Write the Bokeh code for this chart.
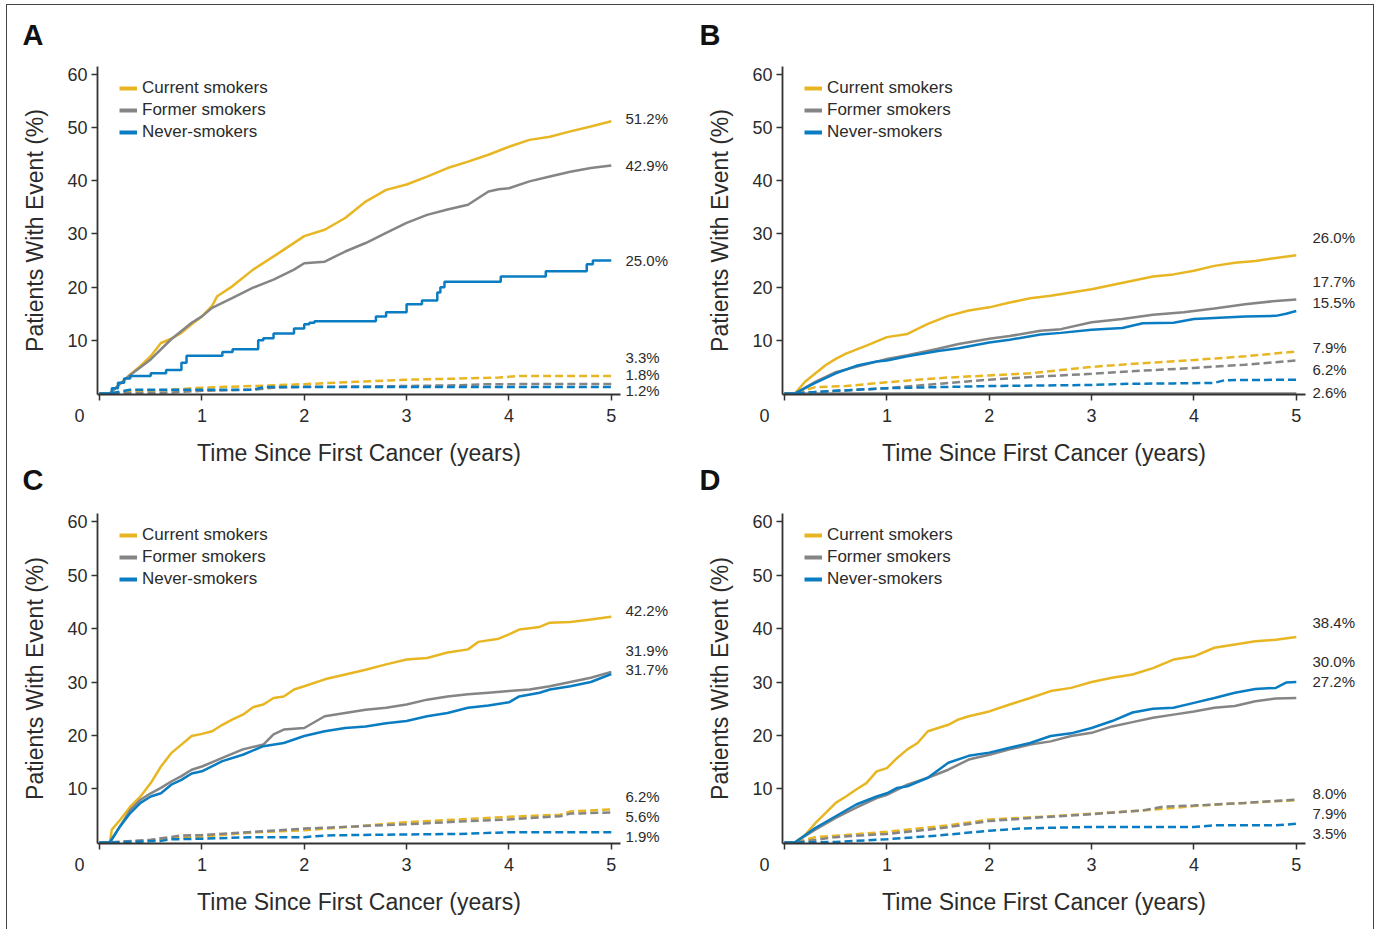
from bokeh.plotting import figure
from bokeh.models import Range1d, FixedTicker, Legend, LegendItem, LinearAxis, Title
from bokeh.layouts import column, row
from bokeh.embed import file_html
from bokeh.resources import INLINE

# ---------------- data ----------------
groups = ["Current smokers", "Former smokers", "Never-smokers"]
x_ticks = [0, 1, 2, 3, 4, 5]
y_ticks = [10, 20, 30, 40, 50, 60]

# Panel A
A_cur_x = [0,0.1,0.2,0.3,0.4,0.5,0.6,0.7,0.8,0.9,1.0,1.1,1.15,1.3,1.5,1.75,2.0,2.2,2.4,2.6,2.8,3.0,3.2,3.4,3.6,3.8,4.0,4.2,4.4,4.6,4.8,5.0]
A_cur_y = [0,0,1.8,3.6,5.2,7.0,9.5,10.3,11.4,13.0,14.5,16.5,18.3,20.2,23.3,26.4,29.6,30.8,33.0,36.1,38.3,39.3,40.8,42.4,43.6,44.9,46.4,47.7,48.3,49.3,50.2,51.2]
A_for_x = [0,0.1,0.2,0.3,0.5,0.7,0.9,1.0,1.1,1.3,1.5,1.7,1.9,2.0,2.2,2.4,2.6,2.8,3.0,3.2,3.4,3.6,3.8,3.9,4.0,4.2,4.4,4.6,4.8,5.0]
A_for_y = [0,0,1.8,3.5,6.4,10.2,13.3,14.5,16.1,18.0,19.9,21.4,23.3,24.5,24.8,26.7,28.3,30.2,32.1,33.6,34.6,35.5,38.0,38.4,38.6,39.9,40.8,41.7,42.4,42.9]
A_nev_x = [0,0.12,0.18,0.24,0.3,0.5,0.65,0.8,0.85,1.2,1.3,1.55,1.6,1.7,1.9,2.0,2.05,2.1,2.7,2.8,3.0,3.15,3.3,3.33,3.37,3.92,4.36,4.76,4.82,5.0]
A_nev_y = [0,1.0,2.0,2.8,3.3,3.8,4.4,5.8,7.1,7.8,8.3,10.0,10.4,11.3,12.2,13.0,13.3,13.6,14.5,15.3,16.8,17.5,19.0,20.0,21.0,22.0,23.0,24.3,25.0,25.0]
A_cur_d_x = [0,0.1,0.3,0.7,1.0,1.5,2.0,2.5,3.0,3.5,3.9,4.1,5.0]
A_cur_d_y = [0,0,0.4,0.7,1.1,1.4,1.75,2.2,2.6,2.8,3.0,3.3,3.3]
A_for_d_x = [0,0.1,0.7,1.0,1.5,1.7,2.0,2.5,3.0,3.5,3.8,5.0]
A_for_d_y = [0,0,0.2,0.5,0.7,1.1,1.25,1.3,1.4,1.55,1.75,1.8]
A_nev_d_x = [0,0.1,0.3,1.5,1.6,5.0]
A_nev_d_y = [0,0,0.7,0.7,1.2,1.2]
A_labels = ["51.2%", "42.9%", "25.0%", "3.3%", "1.8%", "1.2%"]

# Panel B
B_cur_x = [0,0.1,0.2,0.4,0.5,0.6,0.8,1.0,1.2,1.4,1.6,1.8,2.0,2.2,2.4,2.6,2.8,3.0,3.2,3.4,3.6,3.8,4.0,4.2,4.4,4.6,4.8,5.0]
B_cur_y = [0,0,2.2,5.3,6.5,7.5,9.0,10.6,11.2,13.1,14.6,15.6,16.2,17.1,17.9,18.4,19.0,19.6,20.4,21.2,22.0,22.4,23.1,24.0,24.6,24.9,25.5,26.0]
B_for_x = [0,0.1,0.3,0.5,0.7,0.9,1.0,1.2,1.5,1.7,2.0,2.2,2.5,2.7,3.0,3.3,3.6,3.9,4.2,4.5,4.8,5.0]
B_for_y = [0,0,2.2,4.0,5.0,6.0,6.5,7.2,8.4,9.3,10.3,10.8,11.8,12.1,13.4,14.0,14.8,15.3,16.0,16.8,17.4,17.7]
B_nev_x = [0,0.1,0.3,0.5,0.7,0.9,1.0,1.2,1.5,1.7,2.0,2.2,2.5,2.7,3.0,3.3,3.5,3.8,4.0,4.3,4.5,4.8,4.9,5.0]
B_nev_y = [0,0,2.0,3.8,5.2,6.0,6.2,7.0,8.0,8.5,9.6,10.1,11.1,11.4,12.0,12.3,13.2,13.3,14.0,14.3,14.5,14.6,15.0,15.5]
B_cur_d_x = [0,0.1,0.3,0.6,1.0,1.3,1.6,2.0,2.4,2.7,3.0,3.5,4.0,4.5,5.0]
B_cur_d_y = [0,0,1.2,1.4,2.1,2.6,3.0,3.4,3.8,4.4,5.0,5.7,6.3,7.0,7.9]
B_for_d_x = [0,0.1,0.5,1.0,1.5,2.0,2.5,3.0,3.5,4.0,4.5,5.0]
B_for_d_y = [0,0,0.5,1.0,1.8,2.6,3.2,3.7,4.3,4.8,5.4,6.2]
B_nev_d_x = [0,0.1,0.5,1.0,1.5,2.0,2.5,3.0,3.3,3.8,4.2,4.3,5.0]
B_nev_d_y = [0,0,0.5,1.0,1.2,1.4,1.5,1.6,1.8,1.9,2.0,2.5,2.6]
B_base_x = [0, 5.0]
B_base_y = [0, 0]
B_labels = ["26.0%", "17.7%", "15.5%", "7.9%", "6.2%", "2.6%"]

# Panel C
C_cur_x = [0,0.1,0.12,0.2,0.3,0.4,0.5,0.6,0.7,0.8,0.9,1.0,1.1,1.2,1.3,1.4,1.5,1.6,1.7,1.8,1.9,2.0,2.2,2.4,2.6,2.8,3.0,3.2,3.4,3.6,3.7,3.9,4.0,4.1,4.3,4.4,4.6,4.8,5.0]
C_cur_y = [0,0,2.4,4.2,6.7,8.6,11.1,14.2,16.7,18.3,19.9,20.3,20.8,22.0,23.0,23.9,25.3,25.8,27.0,27.3,28.6,29.2,30.5,31.4,32.3,33.3,34.2,34.5,35.5,36.1,37.5,38.1,38.9,39.8,40.3,41.1,41.2,41.7,42.2]
C_for_x = [0,0.1,0.2,0.3,0.4,0.5,0.6,0.7,0.8,0.9,1.0,1.2,1.4,1.6,1.7,1.8,2.0,2.2,2.4,2.6,2.8,3.0,3.2,3.4,3.6,3.8,4.0,4.2,4.4,4.6,4.8,5.0]
C_for_y = [0,0,3.0,6.1,8.0,9.2,10.2,11.4,12.4,13.6,14.2,15.8,17.4,18.3,20.2,21.1,21.4,23.6,24.2,24.8,25.2,25.8,26.7,27.3,27.7,28.0,28.3,28.6,29.2,30.0,30.8,31.9]
C_nev_x = [0,0.1,0.2,0.3,0.4,0.5,0.6,0.7,0.8,0.9,1.0,1.2,1.4,1.6,1.8,2.0,2.2,2.4,2.6,2.8,3.0,3.2,3.4,3.6,3.8,4.0,4.1,4.3,4.4,4.6,4.8,5.0]
C_nev_y = [0,0,3.0,5.5,7.4,8.6,9.2,10.8,11.7,12.9,13.3,15.2,16.4,18.0,18.6,19.9,20.8,21.4,21.7,22.3,22.7,23.6,24.2,25.2,25.6,26.2,27.3,28.0,28.6,29.2,30.0,31.5]
C_cur_d_x = [0,0.1,0.5,0.8,1.0,1.5,2.0,2.5,3.0,3.5,4.0,4.5,4.6,5.0]
C_cur_d_y = [0,0,0.4,0.9,1.1,1.9,2.3,3.0,3.8,4.3,4.8,5.2,5.8,6.2]
C_for_d_x = [0,0.1,0.5,0.8,1.0,1.5,2.0,2.5,3.0,3.5,4.0,4.5,4.6,5.0]
C_for_d_y = [0,0,0.5,1.3,1.4,2.0,2.6,3.0,3.4,3.9,4.3,4.9,5.4,5.6]
C_nev_d_x = [0,0.1,0.6,0.7,1.0,1.5,2.0,2.2,2.5,3.0,3.5,4.0,5.0]
C_nev_d_y = [0,0,0.3,0.6,0.7,1.0,1.0,1.3,1.4,1.5,1.6,1.9,1.9]
C_labels = ["42.2%", "31.9%", "31.7%", "6.2%", "5.6%", "1.9%"]

# Panel D
D_cur_x = [0,0.1,0.2,0.3,0.4,0.5,0.6,0.7,0.8,0.9,1.0,1.1,1.2,1.3,1.4,1.5,1.6,1.7,1.8,2.0,2.2,2.4,2.6,2.8,3.0,3.2,3.4,3.6,3.8,4.0,4.2,4.4,4.6,4.8,5.0]
D_cur_y = [0,0,1.4,3.6,5.5,7.4,8.6,9.9,11.1,13.3,13.9,15.8,17.4,18.6,20.8,21.4,22.0,23.0,23.6,24.5,25.8,27.0,28.3,28.9,30.0,30.8,31.4,32.6,34.2,34.8,36.4,37.0,37.6,37.9,38.4]
D_for_x = [0,0.1,0.3,0.5,0.7,0.9,1.0,1.2,1.4,1.6,1.8,2.0,2.2,2.4,2.6,2.8,3.0,3.2,3.4,3.6,3.8,4.0,4.2,4.4,4.6,4.8,5.0]
D_for_y = [0,0,2.4,4.6,6.5,8.3,8.9,10.8,12.1,13.6,15.5,16.4,17.4,18.3,18.9,19.9,20.5,21.7,22.5,23.3,23.9,24.5,25.2,25.5,26.4,26.9,27.0]
D_nev_x = [0,0.1,0.3,0.5,0.7,0.9,1.0,1.1,1.2,1.4,1.6,1.8,2.0,2.2,2.4,2.6,2.8,3.0,3.2,3.4,3.6,3.8,4.0,4.2,4.4,4.6,4.8,4.9,5.0]
D_nev_y = [0,0,2.7,4.9,7.1,8.6,9.2,10.2,10.5,12.1,14.9,16.2,16.8,17.7,18.6,19.9,20.4,21.4,22.7,24.3,25.0,25.2,26.1,27.0,28.0,28.7,28.9,29.9,30.0]
D_cur_d_x = [0,0.1,0.3,0.6,1.0,1.3,1.6,1.9,2.0,2.5,3.0,3.5,4.0,4.5,5.0]
D_cur_d_y = [0,0,1.0,1.4,2.0,2.6,3.2,4.0,4.3,4.8,5.4,6.0,6.8,7.4,7.9]
D_for_d_x = [0,0.1,0.5,1.0,1.5,2.0,2.5,3.0,3.5,3.7,4.0,4.5,5.0]
D_for_d_y = [0,0,1.0,1.6,2.6,4.0,4.7,5.3,6.0,6.7,6.9,7.4,8.0]
D_nev_d_x = [0,0.1,0.5,0.7,1.0,1.5,2.0,2.3,2.7,3.0,4.0,4.2,4.8,5.0]
D_nev_d_y = [0,0,0.1,0.3,0.6,1.3,2.2,2.6,2.8,2.9,2.9,3.2,3.2,3.5]
D_labels = ["38.4%", "30.0%", "27.2%", "8.0%", "7.9%", "3.5%"]

# ---------------- layout / style (not data) ----------------
A_label_pos = [51.7, 42.9, 25.0, 6.8, 3.6, 0.6]
B_label_pos = [29.25, 21.0, 17.1, 8.6, 4.5, 0.2]
C_label_pos = [43.4, 35.9, 32.3, 8.6, 4.9, 1.1]
D_label_pos = [41.1, 33.8, 30.1, 9.2, 5.4, 1.7]

YELLOW = "#E8B623"
GRAY = "#858585"
BLUE = "#0A7CC2"
TXT = "#2b2b2b"
FONT = "Liberation Sans"
COLORS = [YELLOW, GRAY, BLUE]
NAN = float("nan")
ZERO_LABEL = "0" + "\u00a0" * 8


def letter_title(text, off, valign, standoff):
    return Title(text=text, align="left", offset=off, vertical_align=valign,
                 standoff=standoff, text_font=FONT, text_font_size="29px",
                 text_font_style="bold", text_color="#111")


def make_panel(solid, dashed, labels, label_pos, left, top, bottom, frame_h,
               lab_off, extra=None, step_idx=None):
    W = 683
    fw = 523
    p = figure(width=W, frame_width=fw, frame_height=frame_h,
               min_border_left=left, min_border_right=W - left - fw,
               min_border_top=top, min_border_bottom=bottom,
               x_range=Range1d(-0.02, 5.09), y_range=Range1d(-0.19, 61.5),
               output_backend="svg", toolbar_location=None)
    p.grid.visible = False
    p.outline_line_color = None
    p.background_fill_color = "white"
    p.border_fill_color = "white"

    for ax in (p.xaxis[0], p.yaxis[0]):
        ax.axis_line_color = "#333"
        ax.axis_line_width = 1.8
        ax.major_tick_line_color = "#333"
        ax.major_tick_line_width = 1.5
        ax.major_tick_in = 0
        ax.major_tick_out = 6
        ax.minor_tick_line_color = None
        ax.major_label_text_font = FONT
        ax.major_label_text_font_size = "18px"
        ax.major_label_text_color = TXT
        ax.axis_label_text_font = FONT
        ax.axis_label_text_font_style = "normal"
        ax.axis_label_text_color = TXT
    p.xaxis.ticker = FixedTicker(ticks=x_ticks)
    p.xaxis.major_label_overrides = {0: ZERO_LABEL}
    p.yaxis.ticker = FixedTicker(ticks=y_ticks)
    p.xaxis.major_label_standoff = 5
    p.yaxis.major_label_standoff = 4
    p.xaxis.axis_label = "Time Since First Cancer (years)"
    p.xaxis.axis_label_text_font_size = "23px"
    p.xaxis.axis_label_standoff = 11
    p.yaxis.axis_label = "Patients With Event (%)"
    p.yaxis.axis_label_text_font_size = "23px"
    p.yaxis.axis_label_standoff = 16

    # end-of-curve percentages as an unlined right axis
    rax = LinearAxis(ticker=FixedTicker(ticks=label_pos),
                     major_label_overrides={v: t for v, t in zip(label_pos, labels)},
                     axis_line_color=None, major_tick_line_color=None,
                     minor_tick_line_color=None, major_tick_in=0, major_tick_out=0,
                     major_label_standoff=lab_off, major_label_text_font=FONT,
                     major_label_text_font_size="15px", major_label_text_color=TXT)
    p.add_layout(rax, "right")

    if extra is not None:
        p.line(extra[0], extra[1], line_color=GRAY, line_width=2.5)
    for i, (xs, ys) in enumerate(dashed):
        p.line(xs, ys, line_color=COLORS[i], line_width=2.5, line_dash="8 4")
    for i, (xs, ys) in enumerate(solid):
        if step_idx is not None and i == step_idx:
            p.step(xs, ys, mode="after", line_color=COLORS[i], line_width=2.5)
        else:
            p.line(xs, ys, line_color=COLORS[i], line_width=2.5)

    dummies = [p.line([NAN], [NAN], line_color=c, line_width=4) for c in COLORS]
    legend = Legend(items=[LegendItem(label=g, renderers=[r]) for g, r in zip(groups, dummies)],
                    location=(22, frame_h - 76), orientation="vertical",
                    border_line_color=None, background_fill_alpha=0,
                    margin=0, padding=0, spacing=2, glyph_width=18, glyph_height=20,
                    label_height=20, label_standoff=5,
                    label_text_font=FONT, label_text_font_size="17px",
                    label_text_color=TXT)
    p.add_layout(legend)
    return p


pA = make_panel([(A_cur_x, A_cur_y), (A_for_x, A_for_y), (A_nev_x, A_nev_y)],
                [(A_cur_d_x, A_cur_d_y), (A_for_d_x, A_for_d_y), (A_nev_d_x, A_nev_d_y)],
                A_labels, A_label_pos, 90, 61, 108, 328, 5, step_idx=2)
pB = make_panel([(B_cur_x, B_cur_y), (B_for_x, B_for_y), (B_nev_x, B_nev_y)],
                [(B_cur_d_x, B_cur_d_y), (B_for_d_x, B_for_d_y), (B_nev_d_x, B_nev_d_y)],
                B_labels, B_label_pos, 92, 61, 108, 328, 7,
                extra=(B_base_x, B_base_y))
pC = make_panel([(C_cur_x, C_cur_y), (C_for_x, C_for_y), (C_nev_x, C_nev_y)],
                [(C_cur_d_x, C_cur_d_y), (C_for_d_x, C_for_d_y), (C_nev_d_x, C_nev_d_y)],
                C_labels, C_label_pos, 90, 11, 86, 330, 5)
pD = make_panel([(D_cur_x, D_cur_y), (D_for_x, D_for_y), (D_nev_x, D_nev_y)],
                [(D_cur_d_x, D_cur_d_y), (D_for_d_x, D_for_d_y), (D_nev_d_x, D_nev_d_y)],
                D_labels, D_label_pos, 92, 11, 86, 330, 7)

# panel letters
pA.add_layout(letter_title("A", -75, "top", 27), "above")
pB.add_layout(letter_title("B", -83, "top", 27), "above")
pA.add_layout(letter_title("C", -75, "top", -10), "below")
pB.add_layout(letter_title("D", -83, "top", -10), "below")

layout = column(row(pA, pB), row(pC, pD),
                styles={"border-top": "1.5px solid #444", "border-left": "1.5px solid #444",
                        "border-right": "1.5px solid #444", "margin": "4px 0 0 6px"})

open("out.html", "w").write(file_html(layout, INLINE))
